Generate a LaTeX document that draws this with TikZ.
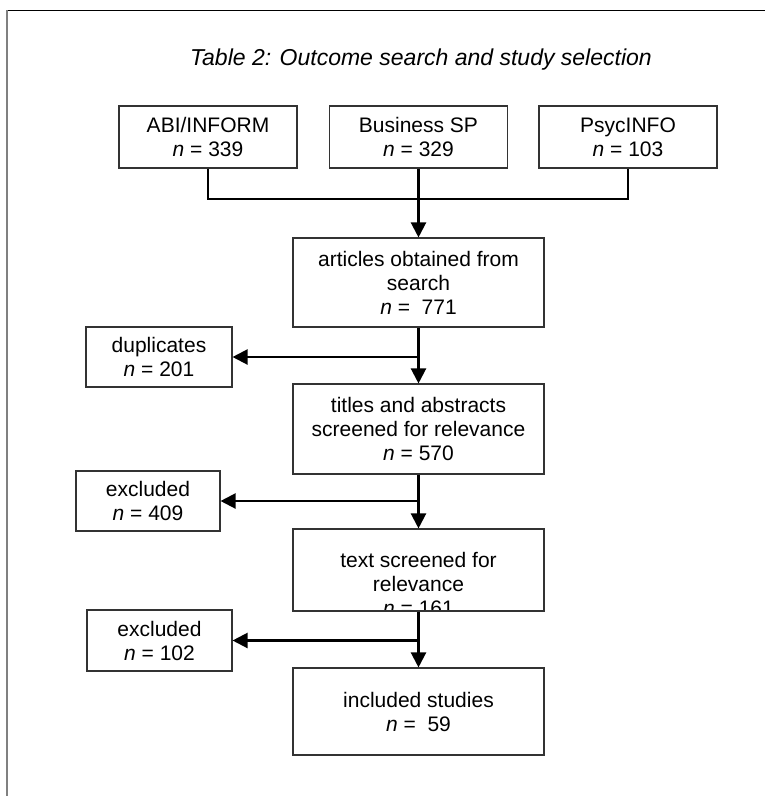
\documentclass[tikz,border=0pt]{standalone}
\usepackage{fontspec}
\setmainfont{Liberation Sans}
\usetikzlibrary{arrows.meta}

\begin{document}
\begin{tikzpicture}[
                x=1pt, y=-1pt,
                box/.style={draw=black!80, line width=1.1pt, inner sep=0pt, align=center,
                    font=\fontsize{21}{24}\selectfont}, % plain rectangle, centred text
                source/.style={box, minimum width=178pt, minimum height=62pt}, % databases
                stage/.style={box, minimum width=251pt}, % main column
                side/.style={box, minimum height=60pt}, % records taken out
                link/.style={line width=2.2pt},
                flow/.style={link, -{Triangle[length=15pt, width=15pt]}}
                ]
                \useasboundingbox (0,0) rectangle (765,796);
                % page frame
                \draw[black, line width=1.2pt] (7,10.5) -- (765,10.5);
                \draw[black!50, line width=2pt] (7,10) -- (7,796);
                \node[font=\fontsize{23}{27}\selectfont\itshape, anchor=base] (title) at (421,65)
                    {Table 2: Outcome search and study selection};
                % databases
                \node[source] (abi) at (208,137) {ABI/INFORM\\\textit{n} = 339};
                \node[source] (bsp) at (418.5,137) {Business SP\\\textit{n} = 329};
                \node[source] (psyc) at (628,137) {PsycINFO\\\textit{n} = 103};
                % main column
                \node[stage, minimum height=89pt] (search) at (418.5,282.5)
                    {articles obtained from\\search\\\textit{n} = \ 771};
                \node[stage, minimum height=90pt] (titles) at (418.5,429)
                    {titles and abstracts\\screened for relevance\\\textit{n} = 570};
                \node[stage, minimum height=82pt,
                    path picture={\node[align=center, inner sep=0pt, draw=none,
                        font=\fontsize{21}{24}\selectfont]
                        at ([yshift=-14pt]path picture bounding box.center)
                        {text screened for\\relevance\\\textit{n} = 161};}] (screen) at (418.5,570) {};
                \node[stage, minimum height=87pt] (included) at (418.5,711.5)
                    {included studies\\\textit{n} = \ 59};
                % side boxes
                \node[side, minimum width=146pt] (dup) at (159,357) {duplicates\\\textit{n} = 201};
                \node[side, minimum width=144pt] (excl1) at (148,501) {excluded\\\textit{n} = 409};
                \node[side, minimum width=145pt, minimum height=61pt] (excl2) at (159.5,640.5)
                    {excluded\\\textit{n} = 102};
                % connectors
                \coordinate (join) at (418.5,199);
                \draw[link] (abi.south) |- (join) -| (psyc.south);
                \draw[flow] (bsp) -- (search);
                \draw[flow] (search) -- (titles);
                \draw[flow] (titles) -- (screen);
                \draw[flow] (screen) -- (included);
                \draw[flow] (dup.east -| search.south) -- (dup.east);
                \draw[flow] (excl1.east -| titles.south) -- (excl1.east);
                \draw[flow] (excl2.east -| screen.south) -- (excl2.east);
            \end{tikzpicture}
\end{document}
